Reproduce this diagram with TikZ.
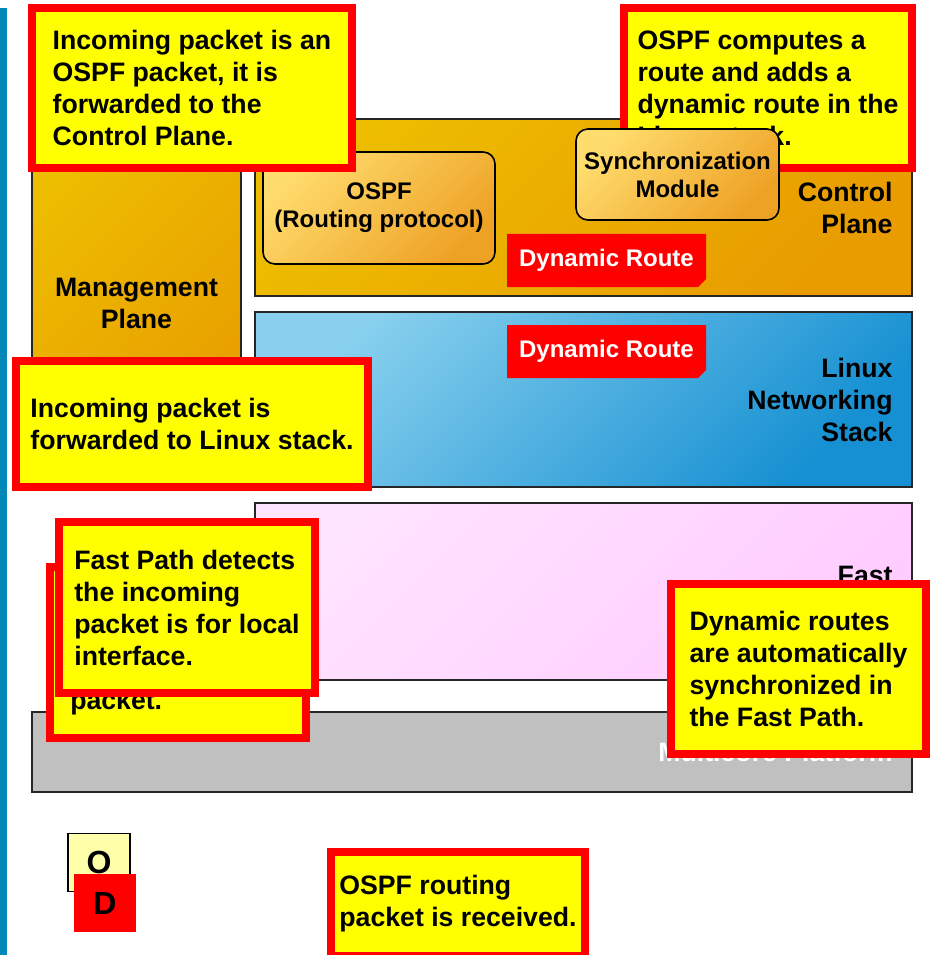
\documentclass[tikz,border=0pt]{standalone}
\usepackage{fontspec}
\setmainfont{Liberation Sans}
\usetikzlibrary{positioning,shapes.misc}

\definecolor{barblue}{HTML}{0088B8}
\definecolor{calloutred}{HTML}{FF0000}
\definecolor{calloutyellow}{HTML}{FFFF00}
\definecolor{ctrltop}{HTML}{EDBD00}
\definecolor{ctrlbot}{HTML}{E89C00}
\definecolor{linuxtop}{HTML}{88D0EE}
\definecolor{linuxbot}{HTML}{1690D2}
\definecolor{fasttop}{HTML}{FFE4FF}
\definecolor{fastbot}{HTML}{FFCCFF}
\definecolor{modtop}{HTML}{FFDC6E}
\definecolor{modbot}{HTML}{EEA225}
\definecolor{platgray}{HTML}{C0C0C0}
\definecolor{legendyellow}{HTML}{FFFFAA}

\begin{document}
\begin{tikzpicture}[x=0.75pt,y=-0.75pt]
    \tikzset{
  txt/.style={font=\bfseries\fontsize{20}{24}\selectfont, inner sep=0},
  layer/.style={
         rectangle,
         draw=black!85, line width=1.2pt,
         inner sep=0,
         minimum width=492.75pt,
         },
  orangeplane/.style={layer, top color=ctrltop, bottom color=ctrlbot, shading angle=45},
  module/.style={
         rectangle,
         rounded corners=9pt,
         draw=black, line width=1.2pt,
         top color=modtop, bottom color=modbot, shading angle=45,
         align=center,
         font=\bfseries\fontsize{18}{21}\selectfont,
         },
  route/.style={
         chamfered rectangle,
         chamfered rectangle corners=south east,
         chamfered rectangle xsep=3pt, chamfered rectangle ysep=3pt,
         fill=calloutred, text=white,
         inner sep=0,
         minimum width=149.25pt, minimum height=39.75pt,
         font=\bfseries\fontsize{18}{21}\selectfont,
         },
  callout/.style={
         rectangle,
         draw=calloutred, fill=calloutyellow, line width=6pt,
         align=left,
         inner sep=0,
         font=\bfseries\fontsize{20}{24}\selectfont,
         },
  legend/.style={
         rectangle,
         inner sep=0,
         minimum width=46.5pt, minimum height=44pt,
         font=\bfseries\fontsize{24}{28}\selectfont,
         },
}
    \useasboundingbox (0,0) rectangle (930,955);

    \node[fill=barblue, inner sep=0, minimum width=5.25pt, minimum height=710pt] (bar) at (3.5,481.5) {};

    % planes
    \node[orangeplane, minimum width=156.75pt, minimum height=275.25pt,
      align=center, font=\bfseries\fontsize{20}{24}\selectfont] (mgmt) at (136.5,303.5)
      {Management\\Plane};

    \node[orangeplane, minimum height=132.75pt] (ctrl) at (583.5,207.5) {};
    \node[txt, align=right, anchor=east] (ctrllbl) at ([xshift=-15pt]ctrl.east) {Control\\Plane};

    \node[module, minimum width=174pt, minimum height=84pt] (ospf) at (379,208)
      {OSPF\\(Routing protocol)};
    \node[route] (route1) at (606.5,260.5) {Dynamic Route};

    \node[layer, top color=linuxtop, bottom color=linuxbot, shading angle=45,
      minimum height=131.25pt] (linux) at (583.5,399.5) {};
    \node[txt, align=right, anchor=east] (linuxlbl) at ([xshift=-15pt]linux.east)
      {Linux\\Networking\\Stack};
    \node[route,
      below of=route1,
      node distance=68.25pt,
      anchor=center] (route2) {Dynamic Route};

    \node[layer, top color=fasttop, bottom color=fastbot, shading angle=45,
      minimum height=132.75pt] (fast) at (583.5,591.5) {};
    \node[txt, align=right, anchor=east] (fastlbl) at ([xshift=-15pt]fast.east) {Fast\\Path};

    \node[layer, fill=platgray, minimum width=660pt, minimum height=60pt] (plat) at (472,752) {};
    \node[txt, text=white, anchor=east] (platlbl) at ([xshift=-15pt]plat.east) {Multicore Platform};

    % callouts
    \node[callout, minimum width=240pt, minimum height=120pt] (cpcall) at (192,88)
      {Incoming packet is an\\OSPF packet, it is\\forwarded to the\\Control Plane.};

    \node[callout, minimum width=216pt, minimum height=120pt] (ospfcall) at (768,88)
      {OSPF computes a\\route and adds a\\dynamic route in the\\Linux stack.};

    \node[module, minimum width=152.25pt, minimum height=68.25pt] (sync) at (677.5,174.5)
      {Synchronization\\Module};

    \node[callout, minimum width=264pt, minimum height=94.5pt] (linuxcall) at (192,424)
      {Incoming packet is\\forwarded to Linux stack.};

    \node[callout, minimum width=192pt, minimum height=128.25pt] (backcall) at (178,652.5) {};
    \node[txt, anchor=west] (backlbl) at (70,703) {packet.};

    \node[callout, minimum width=192pt, minimum height=128.25pt] (fastcall) at (187,607.5)
      {Fast Path detects\\the incoming\\packet is for local\\interface.};

    \node[callout, minimum width=191.25pt, minimum height=127.5pt] (synccall) at (798.5,669)
      {Dynamic routes\\are automatically\\synchronized in\\the Fast Path.};

    % legend
    \node[legend, draw=black, line width=0.8pt, fill=legendyellow] (legO) at (99,862.5) {O};
    \node[legend, fill=calloutred] (legD) at (105,903) {D};

    \node[callout, minimum width=190.5pt, minimum height=78pt] (recvcall) at (458,904)
      {OSPF routing\\packet is received.};

\end{tikzpicture}
\end{document}
